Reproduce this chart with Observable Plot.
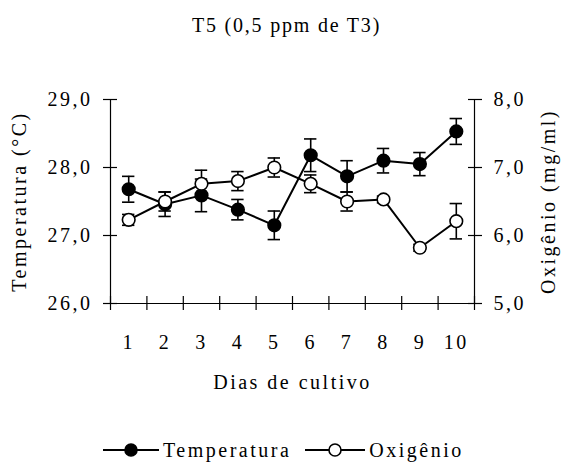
<!DOCTYPE html>
<html>
<head>
<meta charset="utf-8">
<script src="https://cdn.jsdelivr.net/npm/d3@7"></script>
<script src="https://cdn.jsdelivr.net/npm/@observablehq/plot@0.6"></script>
<style>
  html, body { margin: 0; padding: 0; background: white; }
  #wrap { position: relative; width: 561px; height: 470px; font-family: 'Liberation Serif'; color: black; }
  #title { position: absolute; left: 0; top: 13px; width: 561px; padding-left: 12px; box-sizing: border-box; text-align: center; font-family: 'Liberation Serif'; font-size: 20px; line-height: 24px; letter-spacing: 1.8px; }
  #chart { position: absolute; left: 0; top: 60px; }
  #legend { position: absolute; left: 103px; top: 438px; display: flex; align-items: center; font-family: 'Liberation Serif'; font-size: 20px; letter-spacing: 2.5px; line-height: 24px; }
  #legend svg { display: block; }
</style>
</head>
<body>
<div id="wrap">
  <div id="title"></div>
  <div id="chart"></div>
  <div id="legend"></div>
</div>
<script>
const titleText = "T5 (0,5 ppm de T3)";
const xTitle = "Dias de cultivo";
const yTitleLeft = "Temperatura (°C)";
const yTitleRight = "Oxigênio (mg/ml)";
const seriesNames = ["Temperatura", "Oxigênio"];

const days = [1, 2, 3, 4, 5, 6, 7, 8, 9, 10];
const temperatura = [27.68, 27.46, 27.59, 27.38, 27.15, 28.18, 27.87, 28.10, 28.05, 28.53];
const temperaturaErr = [0.19, 0.18, 0.24, 0.15, 0.21, 0.24, 0.23, 0.18, 0.17, 0.19];
const oxigenio = [6.23, 6.50, 6.76, 6.80, 7.00, 6.76, 6.50, 6.53, 5.82, 6.21];
const oxigenioErr = [0.08, 0.14, 0.20, 0.14, 0.14, 0.13, 0.14, 0.05, 0.05, 0.26];

const tempDomain = [26, 29];
const oxyDomain = [5, 8];
const tempTicks = [26, 27, 28, 29];
const oxyTicks = [5, 6, 7, 8];

// oxygen axis is a shifted copy of the temperature axis (same span)
const offset = tempDomain[0] - oxyDomain[0];
const fmt = d => d.toFixed(1).replace(".", ",");

const tempData = days.map((d, i) => ({day: d, v: temperatura[i], lo: temperatura[i] - temperaturaErr[i], hi: temperatura[i] + temperaturaErr[i]}));
const oxyData = days.map((d, i) => ({day: d, v: oxigenio[i] + offset, lo: oxigenio[i] - oxigenioErr[i] + offset, hi: oxigenio[i] + oxigenioErr[i] + offset}));

const xDomain = [days[0] - 0.5, days[days.length - 1] + 0.5];
const xBoundaries = [...days.map(d => d - 0.5), days[days.length - 1] + 0.5];
const cap = 0.17;

function seriesMarks(data, fill) {
  return [
    Plot.line(data, {x: "day", y: "v", stroke: "black", strokeWidth: 2}),
    Plot.ruleX(data, {x: "day", y1: "lo", y2: "hi", stroke: "black", strokeWidth: 1.6}),
    Plot.ruleY(data, {y: "hi", x1: d => d.day - cap, x2: d => d.day + cap, stroke: "black", strokeWidth: 1.6}),
    Plot.ruleY(data, {y: "lo", x1: d => d.day - cap, x2: d => d.day + cap, stroke: "black", strokeWidth: 1.6}),
    Plot.dot(data, {x: "day", y: "v", r: 6.3, fill, stroke: "black", strokeWidth: 1.6})
  ];
}

const chart = Plot.plot({
  width: 561,
  height: 350,
  marginLeft: 110,
  marginRight: 87,
  marginTop: 39,
  marginBottom: 107,
  x: {domain: xDomain},
  y: {domain: tempDomain},
  style: {fontFamily: "Liberation Serif", fontSize: "20px", letterSpacing: "2.5px", color: "black", background: "white", overflow: "visible"},
  marks: [
    // axis lines
    Plot.ruleX(xDomain, {stroke: "black", strokeWidth: 1.2}),
    Plot.ruleY([tempDomain[0]], {stroke: "black", strokeWidth: 1.2}),
    // crossing ticks
    Plot.axisX({ticks: xBoundaries, tickSize: 14, dy: -7, tickFormat: () => "", label: null, strokeWidth: 1.2}),
    Plot.axisY({ticks: tempTicks, tickSize: 14, dx: 7, tickFormat: () => "", label: null, strokeWidth: 1.2}),
    Plot.axisY({anchor: "right", ticks: oxyTicks.map(t => t + offset), tickSize: 14, dx: -7, tickFormat: () => "", label: null, strokeWidth: 1.2}),
    // tick labels
    Plot.axisX({ticks: days, tickSize: 0, tickPadding: 31, tickFormat: d => String(d), label: null}),
    Plot.axisY({ticks: tempTicks, tickSize: 0, tickPadding: 18, tickFormat: fmt, label: null}),
    Plot.axisY({anchor: "right", ticks: oxyTicks.map(t => t + offset), tickSize: 0, tickPadding: 19, tickFormat: d => fmt(d - offset), label: null}),
    // axis titles
    Plot.text([xTitle], {text: d => d, frameAnchor: "bottom", dy: 85, fontSize: 20}),
    Plot.text([yTitleLeft], {text: d => d, frameAnchor: "left", textAnchor: "middle", dx: -91, rotate: -90, fontSize: 20}),
    Plot.text([yTitleRight], {text: d => d, frameAnchor: "right", textAnchor: "middle", dx: 74, rotate: -90, fontSize: 20}),
    // series
    ...seriesMarks(tempData, "black"),
    ...seriesMarks(oxyData, "white")
  ]
});
document.getElementById("chart").appendChild(chart);
document.getElementById("title").textContent = titleText;

// legend
const legend = document.getElementById("legend");
const fills = ["black", "white"];
const widths = [56, 60];
const gapsAfter = [14, 0];
seriesNames.forEach((name, i) => {
  const w = widths[i];
  const ns = "http://www.w3.org/2000/svg";
  const svg = document.createElementNS(ns, "svg");
  svg.setAttribute("width", w);
  svg.setAttribute("height", 16);
  const line = document.createElementNS(ns, "line");
  line.setAttribute("x1", 0); line.setAttribute("x2", w);
  line.setAttribute("y1", 8); line.setAttribute("y2", 8);
  line.setAttribute("stroke", "black"); line.setAttribute("stroke-width", 2);
  svg.appendChild(line);
  const c = document.createElementNS(ns, "circle");
  c.setAttribute("cx", w / 2); c.setAttribute("cy", 8); c.setAttribute("r", 6);
  c.setAttribute("fill", fills[i]); c.setAttribute("stroke", "black"); c.setAttribute("stroke-width", 1.6);
  svg.appendChild(c);
  legend.appendChild(svg);
  const span = document.createElement("span");
  span.textContent = name;
  span.style.marginLeft = "4px";
  span.style.marginRight = gapsAfter[i] + "px";
  legend.appendChild(span);
});
</script>
</body>
</html>
